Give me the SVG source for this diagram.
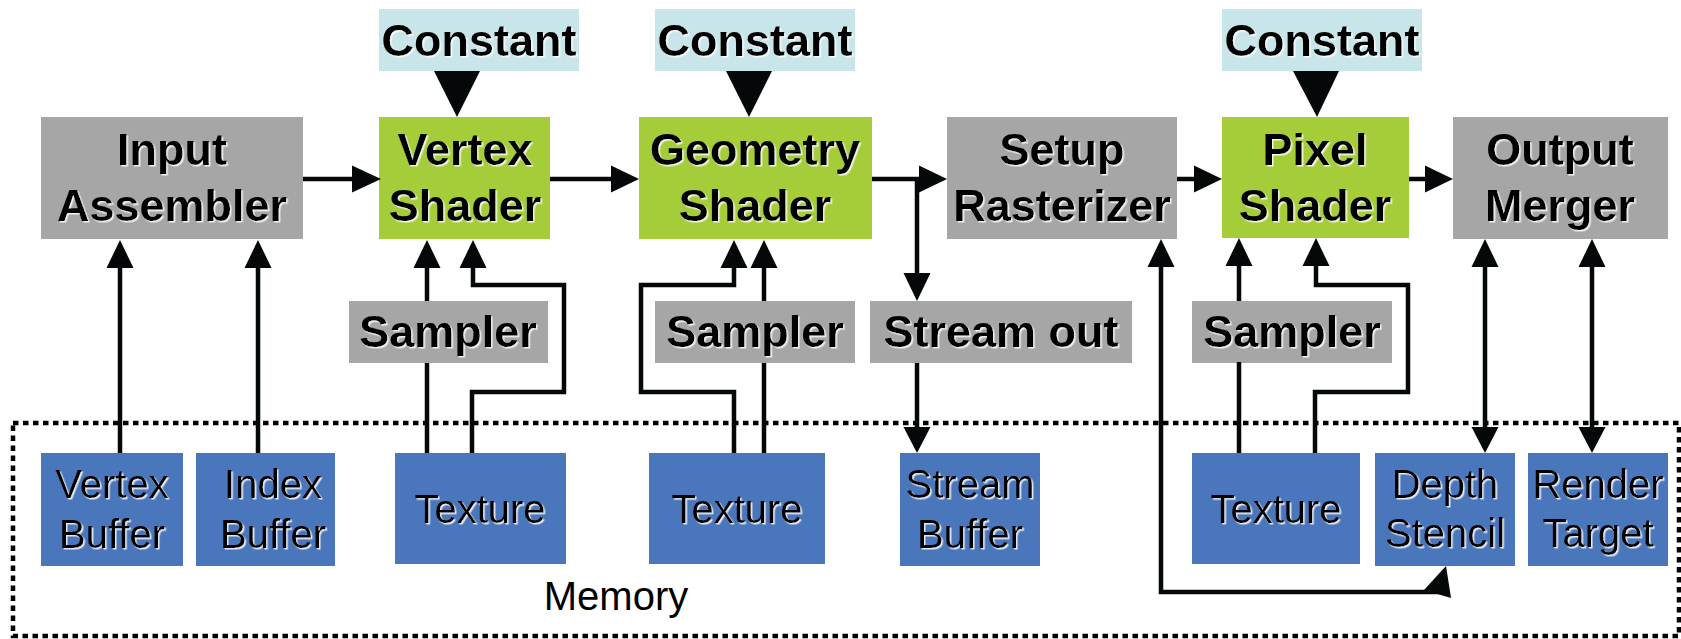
<svg xmlns="http://www.w3.org/2000/svg" width="1681" height="639" viewBox="0 0 1681 639">
<defs>
<style>
.gray{fill:#a6a6a6}
.green{fill:#a5cd39}
.cst{fill:#c8e6ea}
.mem{fill:#4a76bb}
.b{font-family:"Liberation Sans",Arial,sans-serif;font-weight:bold;font-size:45px;fill:#000;text-anchor:middle;filter:url(#sh)}
.r{font-family:"Liberation Sans",Arial,sans-serif;font-size:40px;fill:#000;text-anchor:middle;filter:url(#sh)}
.ln{fill:none;stroke:#050808;stroke-width:4.5;stroke-linejoin:miter}
.ah{fill:#050808}
</style>
<filter id="sh" x="-5%" y="-10%" width="110%" height="125%">
<feDropShadow dx="1.5" dy="1.5" stdDeviation="0.2" flood-color="#ffffff" flood-opacity="0.85"/>
</filter>
</defs>
<rect width="1681" height="639" fill="#ffffff"/>

<g id="memory">
<rect x="13" y="423" width="1666" height="213" fill="none" stroke="#000" stroke-width="4.5" stroke-dasharray="5.5 4.5"/>
<text class="r" x="616" y="610" style="filter:none">Memory</text>
</g>

<g id="constant1"><rect class="cst" x="379" y="9" width="200" height="62"/><text class="b" x="479" y="56">Constant</text></g>
<g id="constant2"><rect class="cst" x="655" y="9" width="200" height="62"/><text class="b" x="755" y="56">Constant</text></g>
<g id="constant3"><rect class="cst" x="1222" y="9" width="200" height="62"/><text class="b" x="1322" y="56">Constant</text></g>

<g id="input-assembler"><rect class="gray" x="41" y="117" width="262" height="122"/><text class="b" x="172" y="165">Input</text><text class="b" x="172" y="221">Assembler</text></g>
<g id="vertex-shader"><rect class="green" x="379" y="117" width="171" height="122"/><text class="b" x="465" y="165">Vertex</text><text class="b" x="465" y="221">Shader</text></g>
<g id="geometry-shader"><rect class="green" x="639" y="117" width="233" height="122"/><text class="b" x="755" y="165">Geometry</text><text class="b" x="755" y="221">Shader</text></g>
<g id="setup-rasterizer"><rect class="gray" x="947" y="117" width="230" height="122"/><text class="b" x="1062" y="165">Setup</text><text class="b" x="1062" y="221">Rasterizer</text></g>
<g id="pixel-shader"><rect class="green" x="1222" y="117" width="187" height="121"/><text class="b" x="1315" y="165">Pixel</text><text class="b" x="1315" y="221">Shader</text></g>
<g id="output-merger"><rect class="gray" x="1453" y="117" width="215" height="122"/><text class="b" x="1560" y="165">Output</text><text class="b" x="1560" y="221">Merger</text></g>

<g id="sampler1"><rect class="gray" x="349" y="301" width="199" height="62"/><text class="b" x="448" y="347">Sampler</text></g>
<g id="sampler2"><rect class="gray" x="655" y="301" width="200" height="62"/><text class="b" x="755" y="347">Sampler</text></g>
<g id="stream-out"><rect class="gray" x="870" y="301" width="262" height="62"/><text class="b" x="1001" y="347">Stream out</text></g>
<g id="sampler3"><rect class="gray" x="1192" y="301" width="200" height="62"/><text class="b" x="1292" y="347">Sampler</text></g>

<g id="vertex-buffer"><rect class="mem" x="41" y="453" width="142" height="113"/><text class="r" x="112" y="498">Vertex</text><text class="r" x="112" y="548">Buffer</text></g>
<g id="index-buffer"><rect class="mem" x="196" y="453" width="139" height="113"/><text class="r" x="273" y="498">Index</text><text class="r" x="273" y="548">Buffer</text></g>
<g id="texture1"><rect class="mem" x="395" y="453" width="171" height="111"/><text class="r" x="480" y="523">Texture</text></g>
<g id="texture2"><rect class="mem" x="649" y="453" width="176" height="111"/><text class="r" x="737" y="523">Texture</text></g>
<g id="stream-buffer"><rect class="mem" x="900" y="453" width="140" height="113"/><text class="r" x="970" y="498">Stream</text><text class="r" x="970" y="548">Buffer</text></g>
<g id="texture3"><rect class="mem" x="1192" y="453" width="168" height="111"/><text class="r" x="1276" y="523">Texture</text></g>
<g id="depth-stencil"><rect class="mem" x="1375" y="453" width="140" height="113"/><text class="r" x="1445" y="498">Depth</text><text class="r" x="1445" y="547">Stencil</text></g>
<g id="render-target"><rect class="mem" x="1528" y="453" width="140" height="113"/><text class="r" x="1598" y="498">Render</text><text class="r" x="1598" y="547">Target</text></g>

<g id="connectors">
<polygon class="ah" points="434,71 480,71 457,117"/>
<polygon class="ah" points="726,71 772,71 749,117"/>
<polygon class="ah" points="1293,71 1339,71 1317,117"/>
<path class="ln" d="M303,179H354"/><polygon class="ah" points="352,165.5 381,179 352,192.5"/>
<path class="ln" d="M550,179H613"/><polygon class="ah" points="611,165.5 639,179 611,192.5"/>
<path class="ln" d="M872,179H921 M917,179V275"/><polygon class="ah" points="919,165.5 947,179 919,192.5"/>
<polygon class="ah" points="903.5,273 930.5,273 917,301"/>
<path class="ln" d="M1177,179H1196"/><polygon class="ah" points="1194,165.5 1222,179 1194,192.5"/>
<path class="ln" d="M1409,179H1427"/><polygon class="ah" points="1425,165.5 1453,179 1425,192.5"/>
<path class="ln" d="M120,453V265"/><polygon class="ah" points="106.5,268 133.5,268 120,240"/>
<path class="ln" d="M258,453V265"/><polygon class="ah" points="244.5,268 271.5,268 258,240"/>
<path class="ln" d="M427,301V265 M427,453V363"/><polygon class="ah" points="413.5,268 440.5,268 427,240"/>
<path class="ln" d="M472,453V392H564V285H473V265"/><polygon class="ah" points="459.5,268 486.5,268 473,240"/>
<path class="ln" d="M764,301V265 M764,453V363"/><polygon class="ah" points="750.5,268 777.5,268 764,240"/>
<path class="ln" d="M734,453V392H641V285H734V265"/><polygon class="ah" points="720.5,268 747.5,268 734,240"/>
<path class="ln" d="M917,363V429"/><polygon class="ah" points="903.5,427 930.5,427 917,453"/>
<path class="ln" d="M1161,265V592H1440"/><polygon class="ah" points="1147.5,267 1174.5,267 1161,239"/>
<polygon class="ah" points="1424,590 1446,566 1451,598"/>
<path class="ln" d="M1239,301V265 M1239,453V362"/><polygon class="ah" points="1225.5,266 1252.5,266 1239,238"/>
<path class="ln" d="M1315,453V392H1408V285H1316V265"/><polygon class="ah" points="1302.5,266 1329.5,266 1316,238"/>
<path class="ln" d="M1485,265V429"/><polygon class="ah" points="1471.5,267 1498.5,267 1485,239"/><polygon class="ah" points="1471.5,427 1498.5,427 1485,453"/>
<path class="ln" d="M1592,265V429"/><polygon class="ah" points="1578.5,267 1605.5,267 1592,239"/><polygon class="ah" points="1578.5,427 1605.5,427 1592,453"/>
</g>
</svg>
